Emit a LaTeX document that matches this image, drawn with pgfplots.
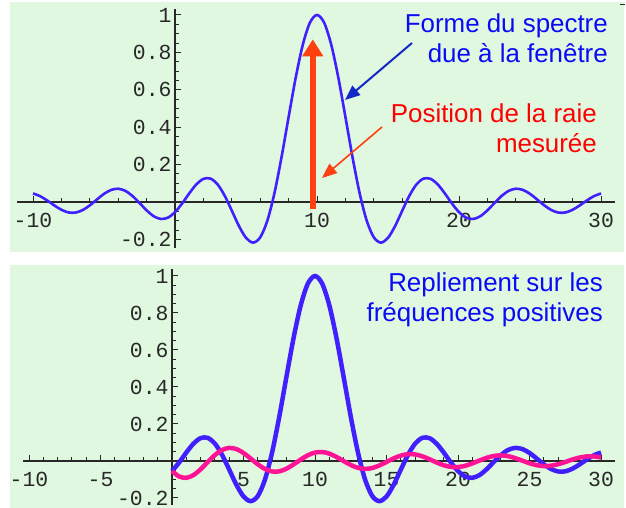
\documentclass[border=0pt]{standalone}
\usepackage{fontspec}
\setmainfont{Liberation Sans}
\newfontfamily\tickfont{Liberation Mono}
\usepackage{pgfplots}
\usepackage{pgfplotstable}
\pgfplotsset{compat=1.18}
\usetikzlibrary{arrows.meta}

\definecolor{panelbg}{RGB}{224,248,224}
\definecolor{curveblue}{RGB}{64,32,255}
\definecolor{curvepink}{RGB}{255,20,150}
\definecolor{noteblue}{RGB}{10,10,245}
\definecolor{notered}{RGB}{255,0,0}
\definecolor{pointerblue}{RGB}{20,40,200}
\definecolor{linered}{RGB}{255,64,16}
\definecolor{axisgray}{RGB}{40,40,40}

% spectral shape of the window, centred on the line at 10
\pgfplotstableread{
x y
-10 0.0456
-9.5 0.0311
-9 0.0079
-8.5 -0.0185
-8 -0.0417
-7.5 -0.0560
-7 -0.0566
-6.5 -0.0431
-6 -0.0180
-5.5 0.0133
-5 0.0434
-4.5 0.0645
-4 0.0708
-3.5 0.0595
-3 0.0323
-2.5 -0.0053
-2 -0.0447
-1.5 -0.0761
-1 -0.0909
-0.5 -0.0838
0 -0.0544
0.5 -0.0079
1 0.0458
1.5 0.0939
2 0.1237
2.5 0.1251
3 0.0939
3.5 0.0331
4 -0.0466
4.5 -0.1283
5 -0.1918
5.5 -0.2172
6 -0.1892
6.5 -0.1002
7 0.0470
7.5 0.2394
8 0.4546
8.5 0.6650
9 0.8415
9.5 0.9589
10 1
10.5 0.9589
11 0.8415
11.5 0.6650
12 0.4546
12.5 0.2394
13 0.0470
13.5 -0.1002
14 -0.1892
14.5 -0.2172
15 -0.1918
15.5 -0.1283
16 -0.0466
16.5 0.0331
17 0.0939
17.5 0.1251
18 0.1237
18.5 0.0939
19 0.0458
19.5 -0.0079
20 -0.0544
20.5 -0.0838
21 -0.0909
21.5 -0.0761
22 -0.0447
22.5 -0.0053
23 0.0323
23.5 0.0595
24 0.0708
24.5 0.0645
25 0.0434
25.5 0.0133
26 -0.0180
26.5 -0.0431
27 -0.0566
27.5 -0.0560
28 -0.0417
28.5 -0.0185
29 0.0079
29.5 0.0311
30 0.0456
}\windowtable

% image of the negative-frequency line folded onto positive frequencies
\pgfplotstableread{
x y
0 -0.0544
0.5 -0.0838
1 -0.0909
1.5 -0.0761
2 -0.0447
2.5 -0.0053
3 0.0323
3.5 0.0595
4 0.0708
4.5 0.0645
5 0.0434
5.5 0.0133
6 -0.0180
6.5 -0.0431
7 -0.0566
7.5 -0.0560
8 -0.0417
8.5 -0.0185
9 0.0079
9.5 0.0311
10 0.0456
10.5 0.0486
11 0.0398
11.5 0.0219
12 -0.0004
12.5 -0.0217
13 -0.0368
13.5 -0.0425
14 -0.0377
14.5 -0.0241
15 -0.0053
15.5 0.0141
16 0.0293
16.5 0.0370
17 0.0354
17.5 0.0254
18 0.0097
18.5 -0.0079
19 -0.0229
19.5 -0.0319
20 -0.0329
20.5 -0.0260
21 -0.0130
21.5 0.0027
22 0.0172
22.5 0.0272
23 0.0303
23.5 0.0260
24 0.0156
24.5 0.0017
25 -0.0122
25.5 -0.0228
26 -0.0276
26.5 -0.0255
27 -0.0174
27.5 -0.0053
28 0.0078
28.5 0.0186
29 0.0247
29.5 0.0247
30 0.0186
}\foldedtable

\pgfplotsset{
  mathstyle/.style={
    axis lines=middle,
    axis line style={-, axisgray, line width=1.2bp},
    every tick/.style={axisgray, line width=1bp},
    tick align=inside,
    major tick length=6bp,
    minor tick length=3.5bp,
    scale only axis,
    clip=false,
    ticklabel style={font=\tickfont\fontsize{21.5}{22}\selectfont, text=axisgray},
    xticklabel style={yshift=-8bp},
  }
}

\begin{document}
\begin{tikzpicture}[x=1bp,y=1bp]
\useasboundingbox (0,0) rectangle (626,508);
\fill[panelbg] (10,256) rectangle (624,506);
\fill[panelbg] (10,0) rectangle (624,243);
\draw[axisgray, line width=1bp] (620,503) -- (625,503);

% upper panel: window shape around the measured line
\begin{axis}[mathstyle,
  at={(17.4bp,260.2bp)}, anchor=south west,
  x=14.2bp, y=187bp,
  xmin=-11.1, xmax=31, ymin=-0.245, ymax=1.03,
  xtick={-10,10,20,30}, xticklabels={-10,10,20,30},
  minor xtick={-8,-6,-4,-2,2,4,6,8,12,14,16,18,22,24,26,28},
  ytick={-0.2,0.2,0.4,0.6,0.8,1}, yticklabels={-0.2,0.2,0.4,0.6,0.8,1},
  minor ytick={-0.15,-0.1,-0.05,0.05,0.1,0.15,0.25,0.3,0.35,0.45,0.5,0.55,0.65,0.7,0.75,0.85,0.9,0.95},
]
\addplot[curveblue, line width=2.6bp, smooth] table {\windowtable};
\addplot[linered, line width=6bp, -{Triangle[length=17bp,width=20bp]}] coordinates {(9.7,-0.04) (9.7,0.87)};
\end{axis}

% lower panel: folding onto positive frequencies
\begin{axis}[mathstyle,
  at={(23.3bp,2.6bp)}, anchor=south west,
  x=14.3bp, y=185bp,
  xmin=-10.4, xmax=31, ymin=-0.24, ymax=1.04,
  xtick={-10,-5,5,10,15,20,25,30}, xticklabels={-10,-5,5,10,15,20,25,30},
  minor xtick={-9,-8,-7,-6,-4,-3,-2,-1,1,2,3,4,6,7,8,9,11,12,13,14,16,17,18,19,21,22,23,24,26,27,28,29},
  ytick={-0.2,0.2,0.4,0.6,0.8,1}, yticklabels={-0.2,0.2,0.4,0.6,0.8,1},
  minor ytick={-0.15,-0.1,-0.05,0.05,0.1,0.15,0.25,0.3,0.35,0.45,0.5,0.55,0.65,0.7,0.75,0.85,0.9,0.95},
]
\addplot[curveblue, line width=4.5bp, smooth, restrict x to domain=0:30] table {\windowtable};
\addplot[curvepink, line width=4.5bp, smooth] table {\foldedtable};
\end{axis}

% annotations
\begin{scope}[every node/.style={inner sep=0pt, font=\fontsize{26}{28}\selectfont}]
\node[anchor=base east, text=noteblue] at (608,475) {Forme du spectre};
\node[anchor=base east, text=noteblue] at (608,445) {due à la fenêtre};
\node[anchor=base east, text=notered] at (597,385) {Position de la raie};
\node[anchor=base east, text=notered] at (597,355) {mesurée};
\node[anchor=base east, text=noteblue] at (603,216) {Repliement sur les};
\node[anchor=base east, text=noteblue] at (603,186) {fréquences positives};
\end{scope}
\draw[pointerblue, line width=2bp, -{Triangle[length=15bp,width=12bp]}] (412,465) -- (345,408);
\draw[linered, line width=1.6bp, -{Triangle[length=15bp,width=12bp]}] (382,381) -- (322,330);
\end{tikzpicture}
\end{document}
